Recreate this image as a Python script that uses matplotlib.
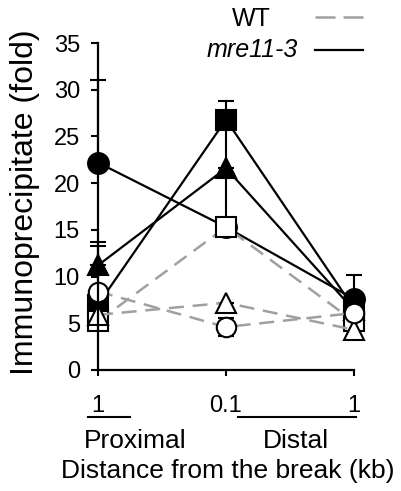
import matplotlib
matplotlib.use("Agg")
import matplotlib.pyplot as plt
from matplotlib.lines import Line2D

plt.rcParams['font.family'] = ['Liberation Sans', 'DejaVu Sans']

# data
positions = [0, 1, 2]
tick_labels = ['1', '0.1', '1']

# errors given as [lower, upper]
mre_circle = [22.2, 15.3, 7.6]
mre_circle_err = [[0.0, 0.0, 0.0], [8.8, 11.5, 2.6]]
mre_triangle = [11.2, 21.6, 6.4]
mre_triangle_err = [[0.0, 0.0, 0.0], [2.5, 0.0, 0.0]]
mre_square = [7.0, 26.8, 6.6]
mre_square_err = [[0.0, 0.0, 0.0], [6.3, 2.0, 0.0]]

wt_square = [5.2, 15.3, 5.2]
wt_square_err = [[0.0, 0.0, 0.0], [0.0, 0.0, 0.0]]
wt_triangle = [5.9, 7.2, 4.3]
wt_triangle_err = [[0.0, 0.0, 0.0], [0.0, 0.0, 0.0]]
wt_circle = [8.4, 4.6, 6.1]
wt_circle_err = [[0.0, 1.0, 0.0], [0.0, 1.0, 0.0]]

fig = plt.figure(figsize=(4.01, 4.91), dpi=100)
ax = fig.add_axes([98 / 401, 121 / 491, 256 / 401, 327 / 491])

gray = '#a0a0a0'

def draw(vals, err, marker, filled, size):
    if filled:
        style = dict(color='black', ls='-', lw=1.6, mfc='black', mec='black')
    else:
        style = dict(color=gray, ls=(0, (6, 3.5)), lw=1.8, mfc='white', mec='black')
    lines = ax.errorbar(positions, vals, yerr=err, marker=marker, ms=size,
                        mew=1.5, ecolor='black', elinewidth=1.5, capsize=6,
                        capthick=1.5, clip_on=False, **style)
    for part in lines.get_children():
        part.set_clip_on(False)

draw(mre_circle, mre_circle_err, 'o', True, 15)
draw(mre_triangle, mre_triangle_err, '^', True, 15)
draw(mre_square, mre_square_err, 's', True, 15)
draw(wt_square, wt_square_err, 's', False, 15)
draw(wt_triangle, wt_triangle_err, '^', False, 14)
draw(wt_circle, wt_circle_err, 'o', False, 14)

ax.set_xlim(0, 2)
ax.set_ylim(0, 35)
ax.set_yticks(range(0, 36, 5))
ax.set_xticks(positions)
ax.set_xticklabels(tick_labels)
ax.spines['top'].set_visible(False)
ax.spines['right'].set_visible(False)
ax.spines['left'].set_linewidth(1.6)
ax.spines['bottom'].set_linewidth(1.6)
ax.tick_params(axis='y', direction='out', length=5, width=1.5, labelsize=17, pad=8)
ax.tick_params(axis='x', direction='out', length=4, width=1.5, labelsize=17, pad=14)

# region brackets under the tick labels
for x0, x1 in [(-0.039, 0.125), (0.547, 1.008)]:
    ax.add_line(Line2D([x0, x1], [-0.144, -0.144], transform=ax.transAxes,
                       color='black', lw=1.5, clip_on=False))
ax.text(0.145, -0.2385, 'Proximal', transform=ax.transAxes, ha='center',
        va='baseline', fontsize=19)
ax.text(0.773, -0.2385, 'Distal', transform=ax.transAxes, ha='center',
        va='baseline', fontsize=19)
ax.text(0.508, -0.330, 'Distance from the break (kb)', transform=ax.transAxes,
        ha='center', va='baseline', fontsize=19)

fig.text(25 / 401, 1 - 202 / 491, 'Immunoprecipitate (fold)', rotation=90,
         ha='center', va='center', fontsize=23)

# legend
fig.text(251 / 401, 1 - 19 / 491, 'WT', ha='center', va='center', fontsize=18)
fig.text(252 / 401, 1 - 50 / 491, 'mre11-3', ha='center', va='center',
         fontsize=18, style='italic')
fig.add_artist(Line2D([315 / 401, 363 / 401], [1 - 17 / 491, 1 - 17 / 491],
                      color=gray, lw=1.8, ls=(0, (8, 3.2))))
fig.add_artist(Line2D([315 / 401, 363 / 401], [1 - 50 / 491, 1 - 50 / 491],
                      color='black', lw=1.6))

fig.savefig('out.png', dpi=100)
